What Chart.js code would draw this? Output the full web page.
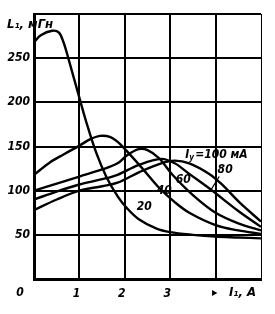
<!DOCTYPE html>
<html><head><meta charset="utf-8">
<script src="https://cdn.jsdelivr.net/npm/chart.js@4/dist/chart.umd.min.js"></script>
<style>html,body{margin:0;padding:0;background:#fff;}</style>
</head><body>
<canvas id="c" width="275" height="314" style="width:275px;height:314px;display:block"></canvas>
<script>
// Bias current labels (mA)
const seriesNames = ['20', '40', '60', '80', '100'];
// I1, A  /  L1, mH  for each bias current
const x20 = [0, 0.15, 0.4, 0.55, 0.65, 0.75, 1.0, 1.15, 1.37, 1.6, 1.85, 2.05, 2.3, 2.7, 3.0, 3.5, 4.0, 4.5, 5.0];
const y20 = [268, 276, 281, 279, 268, 251, 205, 178, 143, 115, 93, 80, 68, 57, 53, 50, 48, 47, 46];
const x40 = [0, 0.35, 0.65, 1.0, 1.23, 1.45, 1.67, 1.85, 2.04, 2.39, 2.76, 3.1, 3.42, 4.0, 4.5, 5.0];
const y40 = [118, 132, 141, 151, 158, 162, 161, 155, 145, 125, 103, 87, 75, 61, 55, 51];
const x60 = [0, 0.5, 1.0, 1.5, 1.84, 2.05, 2.3, 2.5, 2.75, 3.05, 3.5, 4.0, 4.5, 5.0];
const y60 = [100, 108, 116, 124, 131, 140, 147, 146, 137, 118, 95, 75, 63, 55];
const x80 = [0, 0.5, 1.0, 1.5, 1.84, 2.3, 2.8, 3.1, 3.42, 3.9, 4.5, 5.0];
const y80 = [90, 99, 107, 113, 118, 129, 136, 131, 119, 101, 77, 59];
const x100 = [0, 0.5, 1.0, 1.5, 1.84, 2.32, 2.8, 3.1, 3.42, 3.86, 4.14, 4.52, 5.0];
const y100 = [78, 90, 100, 105, 109, 121, 131, 134, 131, 119, 107, 87, 65];
const xTickLabels = ['', '1', '2', '3', '', ''];
const yTickLabels = ['', '50', '100', '150', '200', '250', ''];

const FONT = "'DejaVu Sans Condensed', 'DejaVu Sans', sans-serif";
const pts = (xs, ys) => xs.map((v, i) => ({x: v, y: ys[i]}));
const seriesX = [x20, x40, x60, x80, x100];
const seriesY = [y20, y40, y60, y80, y100];

const datasets = seriesNames.map((n, i) => ({
  label: n + ' mA',
  data: pts(seriesX[i], seriesY[i]),
  borderColor: '#000',
  borderWidth: 2.4,
  pointRadius: 0,
  fill: false,
  tension: 0.35
}));

const textPlugin = {
  id: 'texts',
  afterDraw(chart) {
    const {ctx, scales: {x, y}} = chart;
    ctx.save();
    ctx.fillStyle = '#000';
    ctx.strokeStyle = '#000';
    ctx.textBaseline = 'middle';
    ctx.font = 'italic bold 13px ' + FONT;
    ctx.textAlign = 'left';
    ctx.fillText('L\u2081, \u043c\u0413\u043d', 7, 25);
    ctx.font = 'italic bold 12px ' + FONT;
    ctx.textAlign = 'center';
    ctx.fillText('0', 20, 293);
    ctx.textAlign = 'left';
    ctx.fillText('\u25b8', 212, 293);
    ctx.font = 'italic bold 13px ' + FONT;
    ctx.fillText('I\u2081, \u0410', 229, 293);
    ctx.font = 'italic bold 12px ' + FONT;
    const lab = (t, dx, dy) => ctx.fillText(t, x.getPixelForValue(dx), y.getPixelForValue(dy));
    ctx.textAlign = 'center';
    lab('20', 2.43, 82);
    lab('40', 2.87, 100);
    lab('60', 3.29, 112);
    lab('80', 4.21, 124);
    ctx.textAlign = 'left';
    const px = x.getPixelForValue(3.33), py = y.getPixelForValue(140);
    ctx.fillText('I', px, py);
    ctx.font = 'italic bold 8px ' + FONT;
    ctx.fillText('\u0443', px + 4, py + 3);
    ctx.font = 'italic bold 12px ' + FONT;
    ctx.fillText('=100 \u043c\u0410', px + 10, py);
    ctx.lineWidth = 1.3;
    ctx.beginPath();
    ctx.moveTo(x.getPixelForValue(4.08), y.getPixelForValue(116));
    ctx.lineTo(x.getPixelForValue(3.9), y.getPixelForValue(101));
    ctx.stroke();
    ctx.restore();
  }
};

new Chart(document.getElementById('c'), {
  type: 'line',
  data: {datasets},
  options: {
    responsive: false,
    animation: false,
    devicePixelRatio: 1,
    layout: {padding: {top: 14, right: 14, left: 0, bottom: 0}},
    plugins: {legend: {display: false}, tooltip: {enabled: false}, title: {display: false}},
    scales: {
      x: {
        type: 'linear', min: 0, max: 5,
        ticks: {stepSize: 1, color: '#000', padding: 8, labelOffset: -3,
          font: {family: FONT, size: 12, style: 'italic', weight: 'bold'},
          callback: (v) => xTickLabels[Math.round(v)] ?? ''},
        grid: {color: '#000', lineWidth: (c) => (c.tick && c.tick.value === 5 ? 1 : 2), drawTicks: false},
        border: {color: '#000', width: 3},
        afterFit: (s) => { s.height = 35; }
      },
      y: {
        min: 0, max: 300,
        ticks: {stepSize: 50, color: '#000', padding: 4,
          font: {family: FONT, size: 12, style: 'italic', weight: 'bold'},
          callback: (v) => yTickLabels[Math.round(v / 50)] ?? ''},
        grid: {color: '#000', lineWidth: 2, drawTicks: false},
        border: {color: '#000', width: 3},
        afterFit: (s) => { s.width = 34; }
      }
    }
  },
  plugins: [textPlugin]
});
</script>
</body></html>
